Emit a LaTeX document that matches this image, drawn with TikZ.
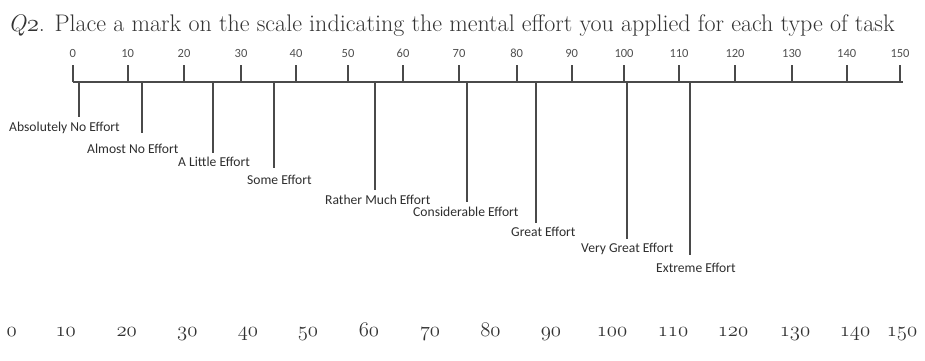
\documentclass[tikz,border=0pt]{standalone}
\usepackage{fontspec}
\newfontfamily\calfont{Carlito}
\definecolor{ink}{HTML}{2E2E2E}
\definecolor{rule}{HTML}{4A4A4A}
\definecolor{tick}{HTML}{505050}
\definecolor{titleink}{HTML}{333333}
\tikzset{
  ticklab/.style={anchor=base,inner sep=0pt,text=tick,font=\calfont\fontsize{12.5}{14}\selectfont},
  efflab/.style={anchor=base west,inner sep=0pt,text=ink,font=\calfont\fontsize{13.6}{15}\selectfont},
  botlab/.style={anchor=base,inner sep=0pt,text=titleink,font=\fontsize{20}{22}\selectfont},
  scaleline/.style={draw=rule,line width=1.8pt},
}
\begin{document}
\begin{tikzpicture}[x=1pt,y=-1pt]
\useasboundingbox (0,0) rectangle (925,360);
% title
\node[anchor=base west,inner sep=0pt,text=titleink,font=\fontsize{24}{28}\selectfont] (title) at (8,31)
  {\textit{Q}\legacyoldstylenums{2}. Place a mark on the scale indicating the mental effort you applied for each type of task};
% scale
\coordinate (s0) at (72.7,82);
\coordinate (s150) at (903,82);
\draw[scaleline] (s0) -- (s150);
\foreach \v/\x in {0/72.7,10/127.7,20/184,30/241,40/296,50/348,60/403,70/459,80/516.7,90/571.7,100/624,110/679,120/735,130/791.7,140/846.7,150/900}{
  \coordinate (tb\v) at (\x,82);
  \coordinate (tt\v) at (\x,65);
  \draw[scaleline] (tb\v) -- (tt\v);
  \node[ticklab] (tl\v) at (\x,57) {\v};
}
% effort labels
\node[efflab] (e1) at (9,131.7) {Absolutely No Effort};
\node[efflab] (e2) at (87,153.3) {Almost No Effort};
\node[efflab] (e3) at (178,166.7) {A Little Effort};
\node[efflab] (e4) at (247,184) {Some Effort};
\node[efflab] (e5) at (325,204) {Rather Much Effort};
\node[efflab] (e6) at (413,216.7) {Considerable Effort};
\node[efflab] (e7) at (511,236) {Great Effort};
\node[efflab] (e8) at (581,252.7) {Very Great Effort};
\node[efflab] (e9) at (656,272) {Extreme Effort};
% drop lines
\foreach \i/\x/\y in {1/79/117,2/141.7/133,3/213/153,4/274/168,5/375/190,6/467/202,7/536/223,8/627/239,9/690/255}{
  \coordinate (da\i) at (\x,82);
  \coordinate (db\i) at (\x,\y);
  \draw[scaleline] (da\i) -- (db\i);
}
% bottom numbers
\foreach \v/\x in {0/11.7,10/65.7,20/126.7,30/187.3,40/248,50/308,60/369,70/430,80/490.5,90/551,100/612,110/673,120/733,130/795,140/855,150/902}{
  \node[botlab] (b\v) at (\x,336.5) {\legacyoldstylenums{\v}};
}
\end{tikzpicture}
\end{document}
